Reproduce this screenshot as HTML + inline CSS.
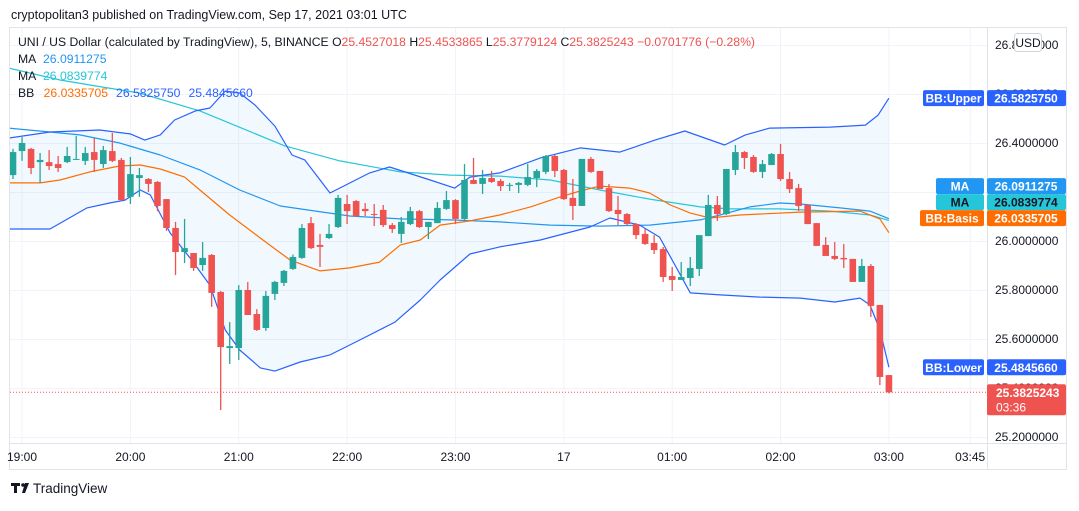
<!DOCTYPE html>
<html><head><meta charset="utf-8"><style>
body{margin:0;background:#fff;width:1079px;height:506px;overflow:hidden;font-family:"Liberation Sans",sans-serif;}
svg text{font-family:"Liberation Sans",sans-serif;}
</style></head><body>
<svg id="chart" width="1079" height="506" viewBox="0 0 1079 506" xmlns="http://www.w3.org/2000/svg">
<text x="11" y="19" font-size="12.5" fill="#131722">cryptopolitan3 published on TradingView.com, Sep 17, 2021 03:01 UTC</text>
<rect x="9.5" y="27.5" width="1057" height="442" fill="#fff" stroke="#e0e3eb"/>
<g id="grid"></g>
<g id="plot"></g>
<line x1="987.5" y1="28" x2="987.5" y2="469" stroke="#e0e3eb"/>
<line x1="10" y1="443.5" x2="1066" y2="443.5" stroke="#e0e3eb"/>
<g id="axes"></g>
<g font-size="12.2">
<text x="18" y="46" fill="#131722">UNI / US Dollar (calculated by TradingView), 5, BINANCE <tspan fill="#131722">O</tspan><tspan fill="#ef5350">25.4527018</tspan> <tspan fill="#131722">H</tspan><tspan fill="#ef5350">25.4533865</tspan> <tspan fill="#131722">L</tspan><tspan fill="#ef5350">25.3779124</tspan> <tspan fill="#131722">C</tspan><tspan fill="#ef5350">25.3825243 −0.0701776 (−0.28%)</tspan></text>
<text x="18" y="63" fill="#131722">MA <tspan fill="#2196f3" dx="4">26.0911275</tspan></text>
<text x="18" y="80" fill="#131722">MA <tspan fill="#26c6da" dx="4">26.0839774</tspan></text>
<text x="18" y="97" fill="#131722">BB <tspan fill="#ff6d00" dx="6">26.0335705</tspan><tspan fill="#2962ff" dx="8">26.5825750</tspan><tspan fill="#2962ff" dx="8">25.4845660</tspan></text>
</g>
<g id="labels"></g>
<g><rect x="1014.5" y="33.5" width="27" height="18" rx="3" fill="#fff" stroke="#d1d4dc"/><text x="1028" y="47" font-size="12" text-anchor="middle" fill="#131722">USD</text></g>
<g>
<path d="M11 483h9v3h-3v7h-3v-7h-3z" fill="#131722"/><circle cx="23" cy="485" r="1.8" fill="#131722"/><path d="M25 483h4l-4 10h-3z" fill="#131722"/>
<text x="33" y="493" font-size="13.5" fill="#131722">TradingView</text></g>
</svg>
<script>
const opens=[26.269,26.367,26.376,26.322,26.322,26.314,26.322,26.331,26.327,26.363,26.314,26.367,26.331,26.180,26.257,26.253,26.241,26.171,26.053,25.955,25.951,25.902,25.943,25.792,25.563,25.563,25.800,25.702,25.645,25.784,25.829,25.886,25.931,26.073,25.984,26.012,26.057,26.151,26.163,26.131,26.110,26.127,26.065,26.029,26.069,26.122,26.057,26.073,26.131,26.167,26.090,26.249,26.233,26.257,26.245,26.227,26.229,26.229,26.257,26.282,26.347,26.290,26.176,26.143,26.335,26.286,26.216,26.127,26.110,26.069,26.029,25.992,25.967,25.857,25.841,25.849,25.886,26.020,26.147,26.110,26.290,26.363,26.343,26.282,26.310,26.355,26.253,26.216,26.147,26.073,25.984,25.939,25.931,25.927,25.833,25.898,25.739,25.4527];
const highs=[26.376,26.424,26.380,26.359,26.371,26.347,26.384,26.429,26.384,26.420,26.388,26.441,26.339,26.343,26.298,26.257,26.245,26.171,26.078,26.090,25.951,25.996,25.947,25.796,25.669,25.820,25.833,25.722,25.796,25.837,25.882,25.945,26.069,26.098,26.029,26.069,26.188,26.188,26.167,26.155,26.151,26.147,26.073,26.098,26.139,26.127,26.078,26.159,26.204,26.171,26.314,26.339,26.290,26.286,26.253,26.237,26.241,26.314,26.294,26.351,26.351,26.294,26.253,26.335,26.343,26.286,26.233,26.184,26.114,26.073,26.049,26.024,25.976,25.894,25.914,25.935,26.024,26.188,26.184,26.294,26.392,26.367,26.351,26.331,26.359,26.396,26.282,26.233,26.151,26.073,26.016,25.996,25.988,25.927,25.927,25.906,25.739,25.4534];
const lows=[26.253,26.327,26.273,26.237,26.290,26.282,26.318,26.331,26.310,26.282,26.298,26.322,26.163,26.151,26.180,26.200,26.122,26.041,25.861,25.910,25.878,25.878,25.731,25.310,25.498,25.514,25.698,25.633,25.633,25.759,25.816,25.882,25.927,25.967,25.894,26.008,26.053,26.069,26.098,26.102,26.061,26.057,26.033,25.992,26.065,26.053,26.008,26.073,26.127,26.069,26.086,26.233,26.192,26.237,26.204,26.204,26.196,26.224,26.220,26.273,26.261,26.167,26.086,26.143,26.278,26.212,26.118,26.065,26.065,26.008,25.984,25.947,25.833,25.796,25.841,25.816,25.857,26.020,26.082,26.106,26.269,26.294,26.278,26.257,26.310,26.245,26.196,26.122,26.069,25.980,25.939,25.922,25.890,25.833,25.833,25.690,25.412,25.3779];
const closes=[26.363,26.400,26.298,26.331,26.306,26.298,26.347,26.335,26.359,26.331,26.371,26.327,26.167,26.273,26.269,26.233,26.143,26.053,25.955,25.971,25.890,25.931,25.788,25.567,25.571,25.800,25.698,25.637,25.776,25.833,25.878,25.935,26.053,25.971,25.976,26.029,26.176,26.122,26.102,26.122,26.106,26.065,26.049,26.078,26.122,26.057,26.078,26.135,26.167,26.090,26.249,26.233,26.257,26.241,26.224,26.229,26.237,26.261,26.286,26.347,26.286,26.171,26.143,26.335,26.282,26.212,26.122,26.110,26.069,26.024,25.988,25.963,25.853,25.841,25.853,25.890,26.024,26.147,26.110,26.294,26.363,26.339,26.282,26.314,26.355,26.253,26.212,26.143,26.069,25.980,25.939,25.927,25.925,25.833,25.898,25.735,25.445,25.3825243];
const upperT=[-0.5,4.1,9.6,13,14.6,16.3,17.9,20.2,21.8,23.5,25.1,26.8,29,30.9,32.3,35.1,39.5,41.7,46.2,48.9,50.6,53.9,58.4,62.8,67.2,71.1,74.4,78.8,81.1,83.8,90.5,94.4,95.8,97];
const upperV=[26.420,26.445,26.453,26.437,26.412,26.433,26.494,26.531,26.543,26.612,26.604,26.555,26.469,26.351,26.331,26.196,26.278,26.302,26.249,26.216,26.261,26.278,26.339,26.380,26.363,26.412,26.449,26.392,26.433,26.461,26.465,26.473,26.514,26.583];
const lowerT=[-0.5,4.1,8.2,10.7,12.4,14.1,15.2,17.4,19.6,21.8,23.5,25.1,27.4,29,31.8,35.1,38.4,42.3,45.1,47.3,50.6,53.9,58.4,63.9,66.1,69.4,71.6,75,78.3,82.7,87.2,91,93.8,94.9,96,97];
const lowerV=[26.049,26.049,26.135,26.155,26.167,26.208,26.188,26.033,25.931,25.820,25.637,25.555,25.482,25.469,25.506,25.535,25.596,25.669,25.759,25.841,25.947,25.976,26.004,26.057,26.094,26.065,26.016,25.788,25.780,25.771,25.767,25.751,25.767,25.739,25.637,25.485];
const basisT=[-0.5,3,5.2,8.5,11.8,14.1,16.3,19,20.7,24,27.4,30.7,34,37.3,40.6,42.9,45.1,47.3,50.6,53.9,57.3,60.6,62.8,65,68.3,70.5,72.8,75,77.2,80.5,87.2,93.8,96,97];
const basisV=[26.237,26.237,26.249,26.282,26.306,26.310,26.294,26.261,26.208,26.106,26.012,25.922,25.878,25.890,25.914,25.984,26.004,26.065,26.082,26.106,26.139,26.180,26.204,26.224,26.216,26.196,26.147,26.114,26.094,26.106,26.118,26.122,26.090,26.034];
const ma1T=[-0.5,4.1,7.4,11.8,16.3,20.7,25.1,29.6,31.8,37.3,42.9,48.4,53.9,59.5,65,70.5,76.1,78.3,81.6,84.9,87.2,91.6,94.9,97];
const ma1V=[26.461,26.445,26.433,26.400,26.351,26.290,26.208,26.143,26.131,26.102,26.090,26.086,26.078,26.065,26.061,26.065,26.086,26.106,26.139,26.155,26.151,26.135,26.122,26.091];
const ma2T=[-0.5,5.2,9.6,14,20.7,30.1,36.2,42.9,48.4,53.9,59.5,65,70.5,76.1,79.4,84.9,90.5,94.9,97];
const ma2V=[26.706,26.657,26.630,26.604,26.531,26.388,26.327,26.282,26.269,26.265,26.249,26.208,26.171,26.139,26.131,26.131,26.122,26.106,26.084];
const priceTicks=[26.8,26.6,26.4,26.2,26.0,25.8,25.6,25.4,25.2];
const timeLabels=["19:00","20:00","21:00","22:00","23:00","17","01:00","02:00","03:00","03:45"];
const timeIdx=[1,13,25,37,49,61,73,85,97,106];

const NS="http://www.w3.org/2000/svg";
function xS(i){return 13+i*9.03;}
function yS(p){return 143+(26.4-p)*245;}
function mk(tag,attrs,parent){const e=document.createElementNS(NS,tag);for(const k in attrs)e.setAttribute(k,attrs[k]);parent.appendChild(e);return e;}
const grid=document.getElementById('grid'),plot=document.getElementById('plot'),axes=document.getElementById('axes'),labels=document.getElementById('labels');
const defs=mk('defs',{},document.getElementById('chart'));
const cp=mk('clipPath',{id:'pc'},defs);mk('rect',{x:10,y:28,width:977,height:415},cp);
plot.setAttribute('clip-path','url(#pc)');
priceTicks.forEach(p=>{
  const l=mk('line',{x1:10,x2:987,y1:yS(p)+0.5,y2:yS(p)+0.5,stroke:'#f0f3fa'},grid);
  
  
  const t=mk('text',{x:995,y:yS(p)+4,'font-size':12,fill:'#131722'},axes);
  t.textContent=p.toFixed(7);
  
  
});
timeLabels.forEach((s,k)=>{
  const x=xS(timeIdx[k]);
  const l=mk('line',{x1:x,x2:x,y1:28,y2:443,stroke:'#f0f3fa'},grid);
  
  
  const t=mk('text',{x:x,y:461,'font-size':12,fill:'#131722','text-anchor':'middle'},axes);
  t.textContent=s;
  
  
});
function interp(T,V,t){if(t<=T[0])return V[0];for(let k=1;k<T.length;k++){if(t<=T[k]){const f=(t-T[k-1])/(T[k]-T[k-1]);return V[k-1]+f*(V[k]-V[k-1]);}}return V[V.length-1];}
let pts=[];for(let t=-0.5;t<=97.001;t+=0.5)pts.push(xS(t)+','+yS(interp(upperT,upperV,t)));
for(let t=97;t>=-0.5;t-=0.5)pts.push(xS(t)+','+yS(interp(lowerT,lowerV,t)));
const band=mk('polygon',{points:pts.join(' '),fill:'#2196f3','fill-opacity':0.06},plot);


function line(T,V,color,name){
  const d=T.map((t,k)=>(k?'L':'M')+xS(t).toFixed(1)+' '+yS(V[k]).toFixed(1)).join(' ');
  const p=mk('path',{d:d,fill:'none',stroke:color,'stroke-width':1.2,'stroke-linejoin':'round'},plot);
  
  
}
line(ma2T,ma2V,'#26c6da','ma-cyan-line');
line(ma1T,ma1V,'#2196f3','ma-blue-line');
line(basisT,basisV,'#ff6d00','bb-basis-line');
line(upperT,upperV,'#2962ff','bb-upper-line');
line(lowerT,lowerV,'#2962ff','bb-lower-line');
opens.forEach((o,i)=>{
  const c=closes[i],up=c>=o,col=up?'#26a69a':'#ef5350',x=xS(i);
  const w=mk('line',{x1:x,x2:x,y1:yS(highs[i]),y2:yS(lows[i]),stroke:col,'stroke-width':1.3},plot);
  
  
  const top=yS(Math.max(o,c)),bot=yS(Math.min(o,c));
  const b=mk('rect',{x:x-3.3,y:top,width:6.6,height:Math.max(1,bot-top),fill:col},plot);
  
  
});
const last=closes[closes.length-1];
const dl=mk('line',{x1:10,x2:987,y1:yS(last),y2:yS(last),stroke:'#ef5350','stroke-dasharray':'1 2'},plot);


function tag(val,txt,bg,fg,name,lbl,lw){
  const y=yS(val);
  if(lbl){const r=mk('rect',{x:986-lw,y:y-8,width:lw-2,height:16,rx:2,fill:bg},labels);
    
    
    const t=mk('text',{x:986-lw/2-1,y:y+4.5,'font-size':12,'font-weight':'bold',fill:fg,'text-anchor':'middle'},labels);t.textContent=lbl;}
  const r2=mk('rect',{x:987,y:y-8,width:79,height:16,rx:2,fill:bg},labels);
  
  
  const t2=mk('text',{x:1026,y:y+4.5,'font-size':12,'font-weight':'bold',fill:fg,'text-anchor':'middle'},labels);t2.textContent=txt;
}
tag(26.583,'26.5825750','#2962ff','#fff','bb-upper','BB:Upper',63);
tag(26.2238,'26.0911275','#2196f3','#fff','ma-blue','MA',50);
tag(26.1585,'26.0839774','#26c6da','#131722','ma-cyan','MA',50);
tag(26.0932,'26.0335705','#ff6d00','#fff','bb-basis','BB:Basis',66);
tag(25.4846,'25.4845660','#2962ff','#fff','bb-lower','BB:Lower',63);
const ly=yS(last);
const lr=mk('rect',{x:987,y:ly-8,width:79,height:31,rx:2,fill:'#ef5350'},labels);


const lt=mk('text',{x:996,y:ly+4.5,'font-size':12,'font-weight':'bold',fill:'#fff'},labels);lt.textContent=last.toFixed(7);
const lt2=mk('text',{x:996,y:ly+19,'font-size':12,fill:'#fff'},labels);lt2.textContent='03:36';
</script>
</body></html>
